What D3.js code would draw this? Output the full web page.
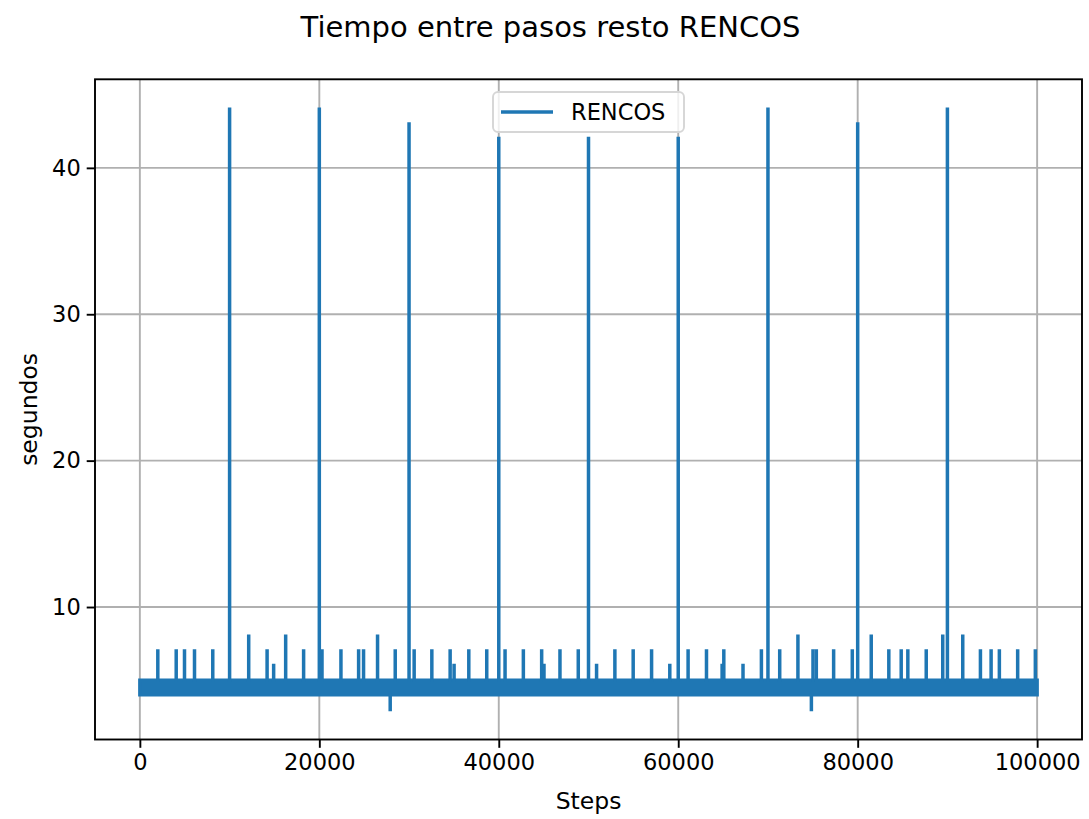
<!DOCTYPE html>
<html>
<head>
<meta charset="utf-8">
<script src="https://cdn.jsdelivr.net/npm/d3@7"></script>
<style>
  body { margin: 0; background: #fff; }
  svg { font-family: "DejaVu Sans", sans-serif; }
</style>
</head>
<body>
<div id="chart"></div>
<script>
// data
var seriesName = "RENCOS";
var stepRange = [0, 99999];
var baseRange = [4, 5];          // dense oscillation band
var spikeSteps = [
  2000, 4050, 4975, 6090, 8125, 10000, 12130, 14180, 14910, 16250, 18250,
  20000, 20300, 22410, 24380, 24930, 26490, 27900, 28460, 30000, 30570, 32540,
  34580, 35020, 36660, 38660, 40000, 40700, 42740, 44780, 45040, 46820, 48860,
  50000, 50900, 52940, 54980, 57030, 59060, 60000, 61100, 63150, 64890, 65080,
  67220, 69270, 70000, 71310, 73340, 74840, 75020, 75390, 77320, 79400, 80000,
  81510, 83470, 84850, 85590, 87640, 89480, 90000, 91710, 93680, 94870, 95790,
  97830, 99800
];
var spikeValues = [
  7, 7, 7, 7, 7, 44, 8, 7, 6, 8, 7,
  44, 7, 7, 7, 7, 8, 3, 7, 43, 7, 7,
  7, 6, 7, 7, 42, 7, 7, 7, 6, 7, 7,
  42, 6, 7, 7, 7, 6, 42, 7, 7, 6, 7,
  6, 7, 44, 7, 8, 3, 7, 7, 7, 7, 43,
  8, 7, 7, 7, 7, 8, 44, 8, 7, 7, 7,
  7, 7
];
var xTicks = [0, 20000, 40000, 60000, 80000, 100000];
var yTicks = [10, 20, 30, 40];

var width = 1089, height = 819;
var pL = 95, pR = 1082, pT = 79.3, pB = 739.5;
var blue = "#1f77b4";
var lw = 3.5;

var svg = d3.select("#chart").append("svg")
  .attr("width", width).attr("height", height);

var x = d3.scaleLinear().domain([-5000, 104999.95]).range([pL, pR]);
var y = d3.scaleLinear().domain([0.95, 46.05]).range([pB, pT]);

// grid
svg.append("g").selectAll("line").data(xTicks).enter().append("line")
  .attr("x1", function(d){ return x(d); }).attr("x2", function(d){ return x(d); })
  .attr("y1", pT).attr("y2", pB)
  .attr("stroke", "#b0b0b0").attr("stroke-width", 1.9);
svg.append("g").selectAll("line").data(yTicks).enter().append("line")
  .attr("y1", function(d){ return y(d); }).attr("y2", function(d){ return y(d); })
  .attr("x1", pL).attr("x2", pR)
  .attr("stroke", "#b0b0b0").attr("stroke-width", 1.9);

// clip to plot
svg.append("clipPath").attr("id", "clip").append("rect")
  .attr("x", pL).attr("y", pT).attr("width", pR - pL).attr("height", pB - pT);
var plot = svg.append("g").attr("clip-path", "url(#clip)");

// band
var area = d3.area()
  .x(function(d){ return x(d); })
  .y0(y(baseRange[0])).y1(y(baseRange[1]));
plot.append("path")
  .datum(stepRange)
  .attr("d", area)
  .attr("fill", blue).attr("stroke", blue)
  .attr("stroke-width", lw).attr("stroke-linejoin", "miter");

// spikes
plot.append("g").selectAll("line")
  .data(spikeSteps.map(function(s, i){ return [s, spikeValues[i]]; }))
  .enter().append("line")
  .attr("x1", function(d){ return x(d[0]); })
  .attr("x2", function(d){ return x(d[0]); })
  .attr("y1", function(d){ return d[1] > baseRange[1] ? y(baseRange[1]) : y(baseRange[0]); })
  .attr("y2", function(d){ return y(d[1]); })
  .attr("stroke", blue).attr("stroke-width", lw).attr("stroke-linecap", "square");

// axes
var xAxis = svg.append("g").attr("transform", "translate(0," + pB + ")")
  .call(d3.axisBottom(x).tickValues(xTicks).tickFormat(d3.format("d")).tickSize(8.3).tickPadding(6));
var yAxis = svg.append("g").attr("transform", "translate(" + pL + ",0)")
  .call(d3.axisLeft(y).tickValues(yTicks).tickSize(8.3).tickPadding(6));
[xAxis, yAxis].forEach(function(a){
  a.select(".domain").remove();
  a.selectAll("line").attr("stroke", "#000").attr("stroke-width", 1.9);
  a.selectAll("text").attr("font-size", "22.5px").attr("fill", "#000")
    .attr("font-family", "DejaVu Sans, sans-serif");
});

// frame
svg.append("rect")
  .attr("x", pL).attr("y", pT).attr("width", pR - pL).attr("height", pB - pT)
  .attr("fill", "none").attr("stroke", "#000").attr("stroke-width", 1.9);

// labels
svg.append("text").attr("x", (pL + pR) / 2).attr("y", 809)
  .attr("text-anchor", "middle").attr("font-size", "23.5px").text("Steps");
svg.append("text").attr("transform", "translate(37," + ((pT + pB) / 2) + ") rotate(-90)")
  .attr("text-anchor", "middle").attr("font-size", "23.5px").text("segundos");
svg.append("text").attr("x", width / 2 + 6).attr("y", 37)
  .attr("text-anchor", "middle").attr("font-size", "29px").text("Tiempo entre pasos resto RENCOS");

// legend
var leg = svg.append("g");
leg.append("rect")
  .attr("x", 493).attr("y", 92).attr("width", 191).attr("height", 40)
  .attr("rx", 5).attr("fill", "#fff").attr("fill-opacity", 0.8)
  .attr("stroke", "#d6d6d6").attr("stroke-width", 1.9);
leg.append("line")
  .attr("x1", 501).attr("x2", 553).attr("y1", 112).attr("y2", 112)
  .attr("stroke", blue).attr("stroke-width", lw);
leg.append("text").attr("x", 571).attr("y", 120)
  .attr("font-size", "22.5px").text(seriesName);
</script>
</body>
</html>
